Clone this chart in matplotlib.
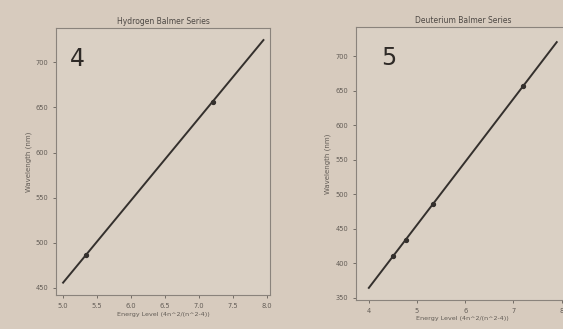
import numpy as np
import matplotlib.pyplot as plt

# hydrogen balmer lines (energy level 4n^2/(n^2-4), wavelength nm)
h_x = [5.333, 7.2]
h_y = [486.1, 656.3]
h_fit_x = [5.0, 7.95]
h_fit_y = [455.8, 724.6]

# deuterium balmer lines
d_x = [4.5, 4.762, 5.333, 7.2]
d_y = [410.1, 434.0, 486.0, 656.1]
d_fit_x = [4.0, 7.9]
d_fit_y = [364.6, 720.1]

h_xticks = [5.0, 5.5, 6.0, 6.5, 7.0, 7.5, 8.0]
h_yticks = [450, 500, 550, 600, 650, 700]
d_xticks = [4, 5, 6, 7, 8]
d_yticks = [350, 400, 450, 500, 550, 600, 650, 700]

paper = "#d7cbbe"
ink = "#34302d"
faint = "#625c56"

fig = plt.figure(figsize=(5.63, 3.29), dpi=100)
fig.patch.set_facecolor(paper)


def panneau(ax, x, y, fx, fy, title, num, numx, xt, yt):
    ax.set_facecolor("#dad0c4")
    ax.plot(fx, fy, color=ink, lw=1.4)
    ax.plot(x, y, "o", color=ink, ms=2.8)
    ax.set_xticks(xt)
    ax.set_yticks(yt)
    ax.tick_params(labelsize=4.8, colors=faint, length=2, width=0.6)
    for s in ax.spines.values():
        s.set_color("#8a837c")
        s.set_linewidth(0.8)
    ax.set_title(title, fontsize=5.5, color="#4d4844", pad=3)
    ax.set_xlabel("Energy Level (4n^2/(n^2-4))", fontsize=4.6, color=faint, labelpad=2)
    ax.set_ylabel("Wavelength (nm)", fontsize=5, color=faint, labelpad=3)
    ax.text(numx, 0.93, num, transform=ax.transAxes, fontsize=17, color="#2e2a27", va="top")


ax1 = fig.add_axes([0.10, 0.103, 0.38, 0.812])
panneau(ax1, h_x, h_y, h_fit_x, h_fit_y, "Hydrogen Balmer Series", "4", 0.065, h_xticks, h_yticks)
ax1.set_xlim(4.9, 8.05)
ax1.set_ylim(442, 738)
ax1.set_xticklabels([f"{v:.1f}" for v in h_xticks])

ax2 = fig.add_axes([0.632, 0.088, 0.38, 0.83])
panneau(ax2, d_x, d_y, d_fit_x, d_fit_y, "Deuterium Balmer Series", "5", 0.12, d_xticks, d_yticks)
ax2.set_xlim(3.73, 8.17)
ax2.set_ylim(347, 742)

fig.savefig("out.png", dpi=100, facecolor=paper)
